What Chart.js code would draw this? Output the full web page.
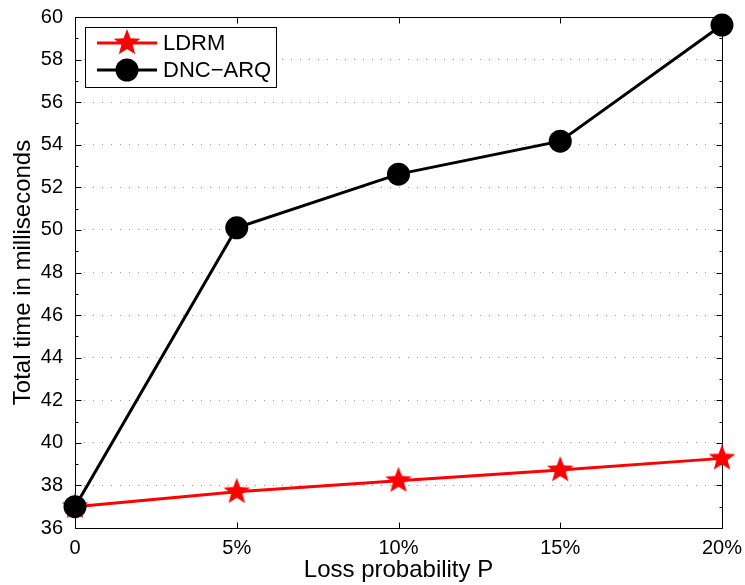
<!DOCTYPE html>
<html>
<head>
<meta charset="utf-8">
<script src="https://cdn.jsdelivr.net/npm/chart.js@4.4.1/dist/chart.umd.min.js"></script>
<style>
  html, body { margin: 0; padding: 0; background: #fff; }
  #wrap { width: 745px; height: 585px; }
</style>
</head>
<body>
<div id="wrap"><canvas id="c" width="745" height="585"></canvas></div>
<script>
// ---- data ----
const categories = ['0', '5%', '10%', '15%', '20%'];
const ldrmValues = [37.0, 37.7, 38.22, 38.72, 39.27];
const dncArqValues = [37.0, 50.1, 52.62, 54.17, 59.62];
const seriesNames = ['LDRM', 'DNC\u2212ARQ'];
const yMin = 36, yMax = 60, yStep = 2;

const FONT = '"Liberation Sans", Arial, Helvetica, sans-serif';

// filled pentagram marker
function makeStar(outer, color) {
  const inner = outer * 0.42;
  const size = Math.ceil(outer * 2 + 2);
  const cv = document.createElement('canvas');
  cv.width = size; cv.height = size;
  const g = cv.getContext('2d');
  const cx = size / 2, cy = size / 2;
  g.beginPath();
  for (let i = 0; i < 10; i++) {
    const r = i % 2 === 0 ? outer : inner;
    const a = -Math.PI / 2 + i * Math.PI / 5;
    const px = cx + r * Math.cos(a), py = cy + r * Math.sin(a);
    if (i === 0) g.moveTo(px, py); else g.lineTo(px, py);
  }
  g.closePath();
  g.fillStyle = color;
  g.fill();
  return cv;
}
const starImg = makeStar(14, '#ff0000');

const framePlugin = {
  id: 'frame',
  beforeDatasetsDraw(chart) {
    const {ctx, chartArea: a, scales} = chart;
    ctx.save();
    ctx.strokeStyle = '#000';
    ctx.lineWidth = 1;
    ctx.beginPath();
    const L = Math.round(a.left) + 0.5, R = Math.round(a.right) + 0.5;
    const T = Math.round(a.top) + 0.5, B = Math.round(a.bottom) + 0.5;
    ctx.rect(L, T, R - L, B - T);
    categories.forEach((c, i) => {
      const x = Math.round(scales.x.getPixelForValue(i)) + 0.5;
      ctx.moveTo(x, B); ctx.lineTo(x, B - 6);
      ctx.moveTo(x, T); ctx.lineTo(x, T + 6);
    });
    for (let v = yMin; v <= yMax; v += 1) {
      const y = Math.round(scales.y.getPixelForValue(v)) + 0.5;
      const len = (v % yStep === 0) ? 6 : 3;
      ctx.moveTo(L, y); ctx.lineTo(L + len, y);
      ctx.moveTo(R, y); ctx.lineTo(R - len, y);
    }
    ctx.stroke();
    ctx.restore();
  },
  afterDraw(chart) {
    const ctx = chart.ctx;
    const ds = chart.data.datasets;
    const bx = 85, by = 27, bw = 191, bh = 60;
    ctx.save();
    ctx.fillStyle = '#fff';
    ctx.fillRect(bx, by, bw, bh);
    ctx.strokeStyle = '#000';
    ctx.lineWidth = 1;
    ctx.strokeRect(bx + 0.5, by + 0.5, bw, bh);
    const rows = [43, 70];
    const order = [1, 0];
    order.forEach((di, r) => {
      const d = ds[di];
      const y = rows[r];
      ctx.strokeStyle = d.borderColor;
      ctx.lineWidth = d.borderWidth;
      ctx.beginPath();
      ctx.moveTo(97, y); ctx.lineTo(157, y);
      ctx.stroke();
      if (d.pointStyle === 'circle') {
        ctx.fillStyle = d.pointBackgroundColor;
        ctx.beginPath();
        ctx.arc(127, y, d.pointRadius, 0, Math.PI * 2);
        ctx.fill();
      } else {
        ctx.drawImage(d.pointStyle, 127 - d.pointStyle.width / 2, y - d.pointStyle.height / 2);
      }
      ctx.fillStyle = '#000';
      ctx.font = '22px ' + FONT;
      ctx.textBaseline = 'middle';
      ctx.textAlign = 'left';
      ctx.fillText(d.label, 163, y + 1);
    });
    ctx.restore();
  }
};

new Chart(document.getElementById('c'), {
  type: 'line',
  data: {
    labels: categories,
    datasets: [
      {
        label: seriesNames[1],
        data: dncArqValues,
        borderColor: '#000000',
        borderWidth: 3,
        pointStyle: 'circle',
        pointRadius: 11.5,
        pointHoverRadius: 11.5,
        pointBackgroundColor: '#000000',
        pointBorderColor: '#000000',
        pointBorderWidth: 0,
        tension: 0,
        clip: false,
        order: 1
      },
      {
        label: seriesNames[0],
        data: ldrmValues,
        borderColor: '#ff0000',
        borderWidth: 3,
        pointStyle: starImg,
        pointRadius: 14,
        pointBackgroundColor: '#ff0000',
        pointBorderColor: '#ff0000',
        tension: 0,
        clip: false,
        order: 2
      }
    ]
  },
  options: {
    responsive: false,
    animation: false,
    events: [],
    layout: { padding: { top: 17, right: 23, left: 0, bottom: 0 } },
    plugins: { legend: { display: false }, tooltip: { enabled: false } },
    scales: {
      x: {
        type: 'category',
        offset: false,
        grid: { display: false, drawTicks: false },
        border: { display: false },
        ticks: { color: '#000', font: { family: FONT, size: 20 }, padding: 8, maxRotation: 0, autoSkip: false },
        title: { display: true, text: 'Loss probability P', color: '#000', font: { family: FONT, size: 24 }, padding: { top: 3, bottom: 0 } },
        afterFit(s) { s.height = 57; s.paddingLeft = 0; s.paddingRight = 0; }
      },
      y: {
        min: yMin, max: yMax,
        grid: { color: '#999999', lineWidth: 1, drawTicks: false },
        border: { display: false, dash: [1, 8] },
        ticks: { stepSize: yStep, color: '#000', font: { family: FONT, size: 20 }, padding: 12 },
        title: { display: true, text: 'Total time in milliseconds', color: '#000', font: { family: FONT, size: 24 }, padding: { top: 9, bottom: 0 } },
        afterFit(s) { s.width = 75; s.paddingTop = 0; s.paddingBottom = 0; }
      }
    }
  },
  plugins: [framePlugin]
});
</script>
</body>
</html>
